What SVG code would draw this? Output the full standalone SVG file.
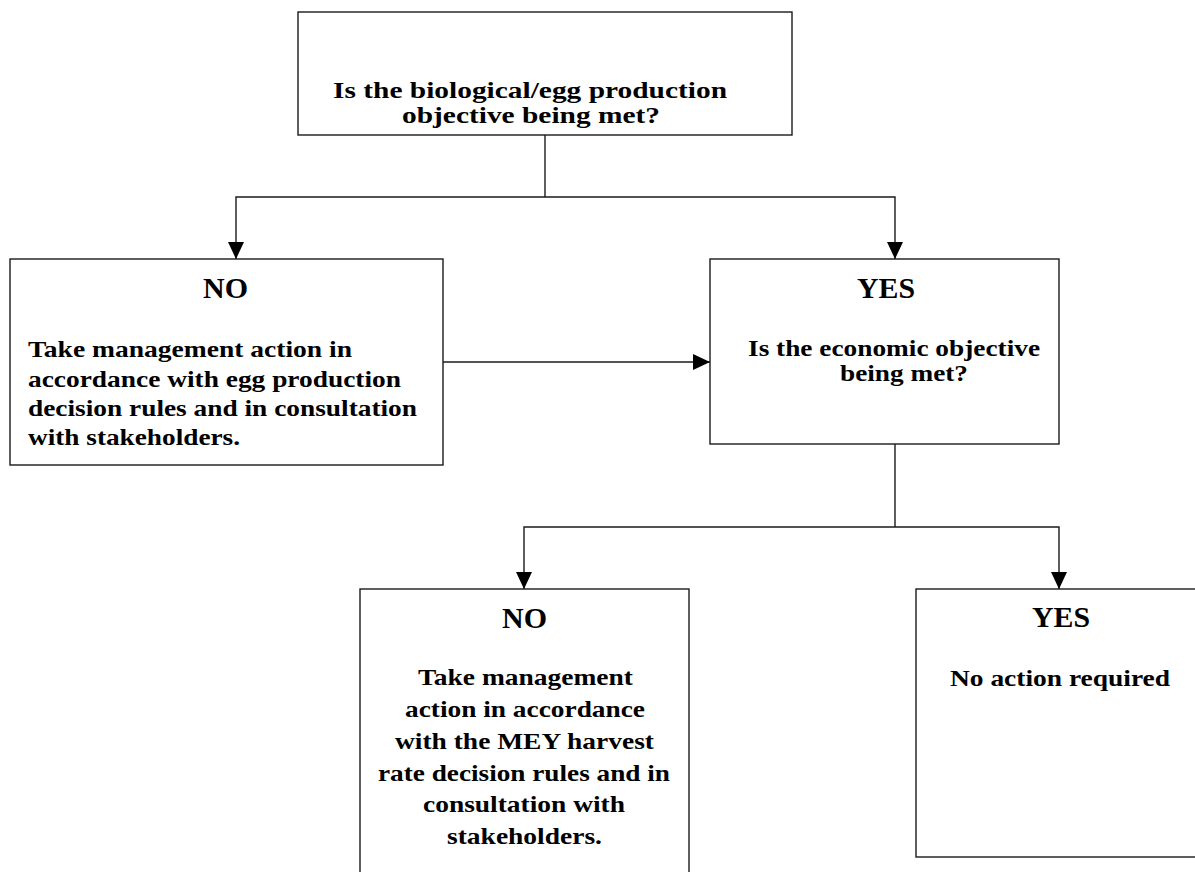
<svg xmlns="http://www.w3.org/2000/svg" width="1195" height="872" viewBox="0 0 1195 872">
<defs>
<style>
.box{fill:#fff;stroke:#1a1a1a;stroke-width:1.4}
.t{font-family:"Liberation Serif","Times New Roman",serif;font-weight:bold;fill:#000}
.b{font-size:23.5px}
.h{font-size:29px}
.q{font-size:23.5px}
.c{fill:none;stroke:#1a1a1a;stroke-width:1.4}
</style>
<marker id="ah" viewBox="0 0 17 16" refX="17" refY="8" markerWidth="17" markerHeight="16" orient="auto" markerUnits="userSpaceOnUse">
<path d="M0,0 L17,8 L0,16 Z" fill="#000"/>
</marker>
</defs>
<rect width="1195" height="872" fill="#fff"/>
<g id="connectors">
<path class="c" d="M545,135 V197"/>
<path class="c" d="M545,197 H236 V259" marker-end="url(#ah)"/>
<path class="c" d="M545,197 H895 V259" marker-end="url(#ah)"/>
<path class="c" d="M443,362 H710" marker-end="url(#ah)"/>
<path class="c" d="M895,444 V527"/>
<path class="c" d="M895,527 H524 V589" marker-end="url(#ah)"/>
<path class="c" d="M895,527 H1059 V589" marker-end="url(#ah)"/>
</g>
<g id="q1">
<rect class="box" x="298" y="12" width="494" height="123"/>
<text class="t q" x="333" y="98" textLength="394" lengthAdjust="spacingAndGlyphs">Is the biological/egg production</text>
<text class="t q" x="402" y="123" textLength="258" lengthAdjust="spacingAndGlyphs">objective being met?</text>
</g>
<g id="no1">
<rect class="box" x="10" y="259" width="433" height="206"/>
<text class="t h" x="203" y="298" textLength="45" lengthAdjust="spacingAndGlyphs">NO</text>
<text class="t b" x="28" y="357" textLength="324" lengthAdjust="spacingAndGlyphs">Take management action in</text>
<text class="t b" x="28" y="387" textLength="373" lengthAdjust="spacingAndGlyphs">accordance with egg production</text>
<text class="t b" x="28" y="416" textLength="389" lengthAdjust="spacingAndGlyphs">decision rules and in consultation</text>
<text class="t b" x="28" y="445" textLength="212" lengthAdjust="spacingAndGlyphs">with stakeholders.</text>
</g>
<g id="yes1">
<rect class="box" x="710" y="259" width="349" height="185"/>
<text class="t h" x="857" y="298" textLength="58" lengthAdjust="spacingAndGlyphs">YES</text>
<text class="t q" x="748" y="356" textLength="292" lengthAdjust="spacingAndGlyphs">Is the economic objective</text>
<text class="t q" x="840" y="381" textLength="128" lengthAdjust="spacingAndGlyphs">being met?</text>
</g>
<g id="no2">
<rect class="box" x="360" y="589" width="329" height="300"/>
<text class="t h" x="502" y="628" textLength="45" lengthAdjust="spacingAndGlyphs">NO</text>
<text class="t b" x="418" y="685" textLength="215" lengthAdjust="spacingAndGlyphs">Take management</text>
<text class="t b" x="405" y="717" textLength="240" lengthAdjust="spacingAndGlyphs">action in accordance</text>
<text class="t b" x="395" y="749" textLength="259" lengthAdjust="spacingAndGlyphs">with the MEY harvest</text>
<text class="t b" x="378" y="781" textLength="292" lengthAdjust="spacingAndGlyphs">rate decision rules and in</text>
<text class="t b" x="423" y="812" textLength="202" lengthAdjust="spacingAndGlyphs">consultation with</text>
<text class="t b" x="447" y="844" textLength="155" lengthAdjust="spacingAndGlyphs">stakeholders.</text>
</g>
<g id="yes2">
<rect class="box" x="916" y="589" width="300" height="268"/>
<text class="t h" x="1032" y="627" textLength="58" lengthAdjust="spacingAndGlyphs">YES</text>
<text class="t b" x="950" y="686" textLength="220" lengthAdjust="spacingAndGlyphs">No action required</text>
</g>
</svg>
